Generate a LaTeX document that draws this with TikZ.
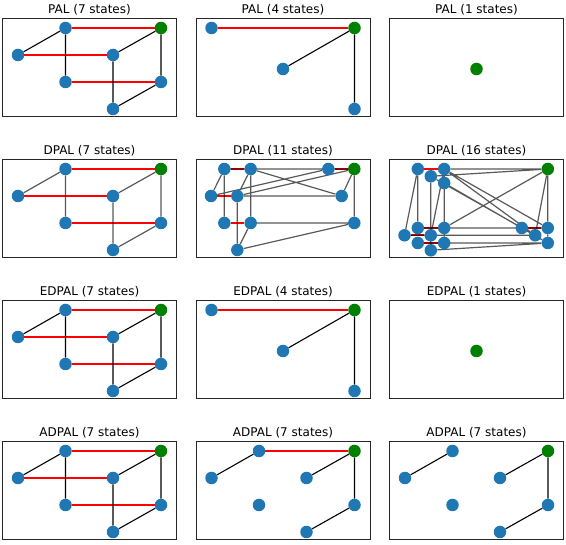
\documentclass[tikz,border=0pt]{standalone}
\usepackage{fontspec}
\setmainfont{DejaVu Sans}
\usetikzlibrary{backgrounds}
\definecolor{stblue}{HTML}{1F77B4}
\definecolor{stgreen}{HTML}{008000}
\begin{document}
\begin{tikzpicture}[x=1pt,y=-1pt,
  st/.style={circle,fill=stblue,minimum size=12.5pt,inner sep=0pt},
  goal/.style={circle,fill=stgreen,minimum size=12.5pt,inner sep=0pt},
  pal/.style={red,line width=2pt},
  trans/.style={black,line width=1.1pt},
  dtrans/.style={black,opacity=0.65,line width=1.2pt},
  frame/.style={black!85,line width=1pt},
  title/.style={font=\fontsize{12}{14}\selectfont,inner sep=0pt}]
 \useasboundingbox (0,0) rectangle (566,545);
 % row 1 -- PAL
 \begin{scope}[shift={(2.5,19)}]
  \node[title] (t1) at (87,-9) {PAL (7 states)};
  \draw[frame] (0,0) rectangle (174,98);
  \node[st] (aa) at (63,9) {}; \node[goal] (ag) at (158.5,9) {};
  \node[st] (ab) at (15.5,36) {}; \node[st] (ac) at (110.5,36) {};
  \node[st] (ad) at (63,63) {}; \node[st] (ae) at (158.5,63) {};
  \node[st] (af) at (110.5,90) {};
  \begin{scope}[on background layer]
   \draw[pal] (aa)--(ag) (ab)--(ac) (ad)--(ae);
   \draw[trans] (ab)--(aa) (ac)--(ag) (aa)--(ad) (ac)--(af) (ag)--(ae) (af)--(ae);
  \end{scope}
 \end{scope}
 \begin{scope}[shift={(196,19)}]
  \node[title] (t2) at (87,-9) {PAL (4 states)};
  \draw[frame] (0,0) rectangle (174,98);
  \node[st] (bl) at (15.5,9) {}; \node[goal] (bg) at (158.5,9) {};
  \node[st] (bm) at (87,50) {}; \node[st] (br) at (158.5,90) {};
  \begin{scope}[on background layer]
   \draw[pal] (bl)--(bg);
   \draw[trans] (bm)--(bg) (bg)--(br);
  \end{scope}
 \end{scope}
 \begin{scope}[shift={(389.5,19)}]
  \node[title] (t3) at (87,-9) {PAL (1 states)};
  \draw[frame] (0,0) rectangle (174,98);
  \node[goal] (cg) at (87,50) {};
 \end{scope}
 % row 2 -- DPAL
 \begin{scope}[shift={(2.5,160)}]
  \node[title] (t4) at (87,-9) {DPAL (7 states)};
  \draw[frame] (0,0) rectangle (174,98);
  \node[st] (da) at (63,9) {}; \node[goal] (dg) at (158.5,9) {};
  \node[st] (db) at (15.5,36) {}; \node[st] (dc) at (110.5,36) {};
  \node[st] (dd) at (63,63) {}; \node[st] (de) at (158.5,63) {};
  \node[st] (df) at (110.5,90) {};
  \begin{scope}[on background layer]
   \draw[pal] (da)--(dg) (db)--(dc) (dd)--(de);
   \draw[dtrans] (db)--(da) (dc)--(dg) (da)--(dd) (dc)--(df) (dg)--(de) (df)--(de);
  \end{scope}
 \end{scope}
 \begin{scope}[shift={(196,160)}]
  \node[title] (t5) at (87,-9) {DPAL (11 states)};
  \draw[frame] (0,0) rectangle (174,98);
  \node[st] (ea) at (28.3,9) {}; \node[st] (eb) at (54.7,9) {};
  \node[st] (ec) at (132.3,9) {}; \node[goal] (eg) at (158.3,9) {};
  \node[st] (ed) at (15,36) {}; \node[st] (ee) at (41.3,36) {};
  \node[st] (ef) at (145.7,36) {};
  \node[st] (eh) at (28.3,63) {}; \node[st] (ei) at (54.7,63) {};
  \node[st] (ej) at (158.3,63) {};
  \node[st] (ek) at (41.3,90) {};
  \begin{scope}[on background layer]
   \draw[pal] (ea)--(eb) (ec)--(eg) (ed)--(ee) (eh)--(ei);
   \draw[dtrans] (ea.center)--(eg.center) (eb)--(ec) (ea)--(ed) (ea)--(eh) (eb)--(ee) (eb)--(ei)
     (eb)--(ef) (ed)--(ec) (ee)--(eg) (ee)--(ef) (ef)--(eg) (eg)--(ej)
     (ei)--(ej) (ek)--(ej) (ee)--(ek) (ek)--(ei);
  \end{scope}
 \end{scope}
 \begin{scope}[shift={(389.5,160)}]
  \node[title] (t6) at (87,-9) {DPAL (16 states)};
  \draw[frame] (0,0) rectangle (174,98);
  \node[st] (f1) at (28.3,9) {}; \node[st] (f2) at (54.7,9) {};
  \node[st] (f3) at (41.3,16.3) {}; \node[st] (f4) at (54.7,23) {};
  \node[goal] (fg) at (158.3,9) {};
  \node[st] (f5) at (28.3,68) {}; \node[st] (f6) at (54.7,68) {};
  \node[st] (f7) at (15,75.3) {}; \node[st] (f8) at (41.3,75.3) {};
  \node[st] (f9) at (28.3,83) {}; \node[st] (f10) at (54.7,83) {};
  \node[st] (f11) at (41.3,90.3) {};
  \node[st] (f12) at (132.3,68) {}; \node[st] (f13) at (158.3,68) {};
  \node[st] (f14) at (145.7,75.3) {}; \node[st] (f15) at (158.3,83) {};
  \begin{scope}[on background layer]
   \draw[pal] (f1)--(f2) (f5)--(f6) (f7)--(f8) (f9)--(f10) (f12)--(f13);
   \draw[dtrans] (f2)--(fg) (f3)--(fg) (f6)--(fg) (f4)--(f12)
     (f2)--(f13) (f2)--(f14) (f4)--(f15) (f3)--(f14) (fg)--(f13) (fg)--(f14)
     (f1)--(f7) (f1)--(f5) (f2)--(f6) (f2)--(f8) (f3)--(f8) (f3)--(f11)
     (f4)--(f10) (f4)--(f6) (f6)--(f12) (f5.center)--(f13.center) (f8)--(f14)
     (f7)--(f14) (f10)--(f15) (f9)--(f15) (f11)--(f15) (f12)--(f14) (f13)--(f15);
  \end{scope}
 \end{scope}
 % row 3 -- EDPAL
 \begin{scope}[shift={(2.5,301)}]
  \node[title] (t7) at (87,-9) {EDPAL (7 states)};
  \draw[frame] (0,0) rectangle (174,98);
  \node[st] (ga) at (63,9) {}; \node[goal] (gg) at (158.5,9) {};
  \node[st] (gb) at (15.5,36) {}; \node[st] (gc) at (110.5,36) {};
  \node[st] (gd) at (63,63) {}; \node[st] (ge) at (158.5,63) {};
  \node[st] (gf) at (110.5,90) {};
  \begin{scope}[on background layer]
   \draw[pal] (ga)--(gg) (gb)--(gc) (gd)--(ge);
   \draw[trans] (gb)--(ga) (gc)--(gg) (ga)--(gd) (gc)--(gf) (gg)--(ge) (gf)--(ge);
  \end{scope}
 \end{scope}
 \begin{scope}[shift={(196,301)}]
  \node[title] (t8) at (87,-9) {EDPAL (4 states)};
  \draw[frame] (0,0) rectangle (174,98);
  \node[st] (hl) at (15.5,9) {}; \node[goal] (hg) at (158.5,9) {};
  \node[st] (hm) at (87,50) {}; \node[st] (hr) at (158.5,90) {};
  \begin{scope}[on background layer]
   \draw[pal] (hl)--(hg);
   \draw[trans] (hm)--(hg) (hg)--(hr);
  \end{scope}
 \end{scope}
 \begin{scope}[shift={(389.5,301)}]
  \node[title] (t9) at (87,-9) {EDPAL (1 states)};
  \draw[frame] (0,0) rectangle (174,98);
  \node[goal] (ig) at (87,50) {};
 \end{scope}
 % row 4 -- ADPAL
 \begin{scope}[shift={(2.5,442)}]
  \node[title] (t10) at (87,-9) {ADPAL (7 states)};
  \draw[frame] (0,0) rectangle (174,98);
  \node[st] (ja) at (63,9) {}; \node[goal] (jg) at (158.5,9) {};
  \node[st] (jb) at (15.5,36) {}; \node[st] (jc) at (110.5,36) {};
  \node[st] (jd) at (63,63) {}; \node[st] (je) at (158.5,63) {};
  \node[st] (jf) at (110.5,90) {};
  \begin{scope}[on background layer]
   \draw[pal] (ja)--(jg) (jb)--(jc) (jd)--(je);
   \draw[trans] (jb)--(ja) (jc)--(jg) (ja)--(jd) (jc)--(jf) (jg)--(je) (jf)--(je);
  \end{scope}
 \end{scope}
 \begin{scope}[shift={(196,442)}]
  \node[title] (t11) at (87,-9) {ADPAL (7 states)};
  \draw[frame] (0,0) rectangle (174,98);
  \node[st] (ka) at (63,9) {}; \node[goal] (kg) at (158.5,9) {};
  \node[st] (kb) at (15.5,36) {}; \node[st] (kc) at (110.5,36) {};
  \node[st] (kd) at (63,63) {}; \node[st] (ke) at (158.5,63) {};
  \node[st] (kf) at (110.5,90) {};
  \begin{scope}[on background layer]
   \draw[pal] (ka)--(kg);
   \draw[trans] (kb)--(ka) (kc)--(kg) (kg)--(ke) (kf)--(ke);
  \end{scope}
 \end{scope}
 \begin{scope}[shift={(389.5,442)}]
  \node[title] (t12) at (87,-9) {ADPAL (7 states)};
  \draw[frame] (0,0) rectangle (174,98);
  \node[st] (la) at (63,9) {}; \node[goal] (lg) at (158.5,9) {};
  \node[st] (lb) at (15.5,36) {}; \node[st] (lc) at (110.5,36) {};
  \node[st] (ld) at (63,63) {}; \node[st] (le) at (158.5,63) {};
  \node[st] (lf) at (110.5,90) {};
  \begin{scope}[on background layer]
   \draw[trans] (lb)--(la) (lc)--(lg) (lg)--(le) (lf)--(le);
  \end{scope}
 \end{scope}
\end{tikzpicture}
\end{document}
